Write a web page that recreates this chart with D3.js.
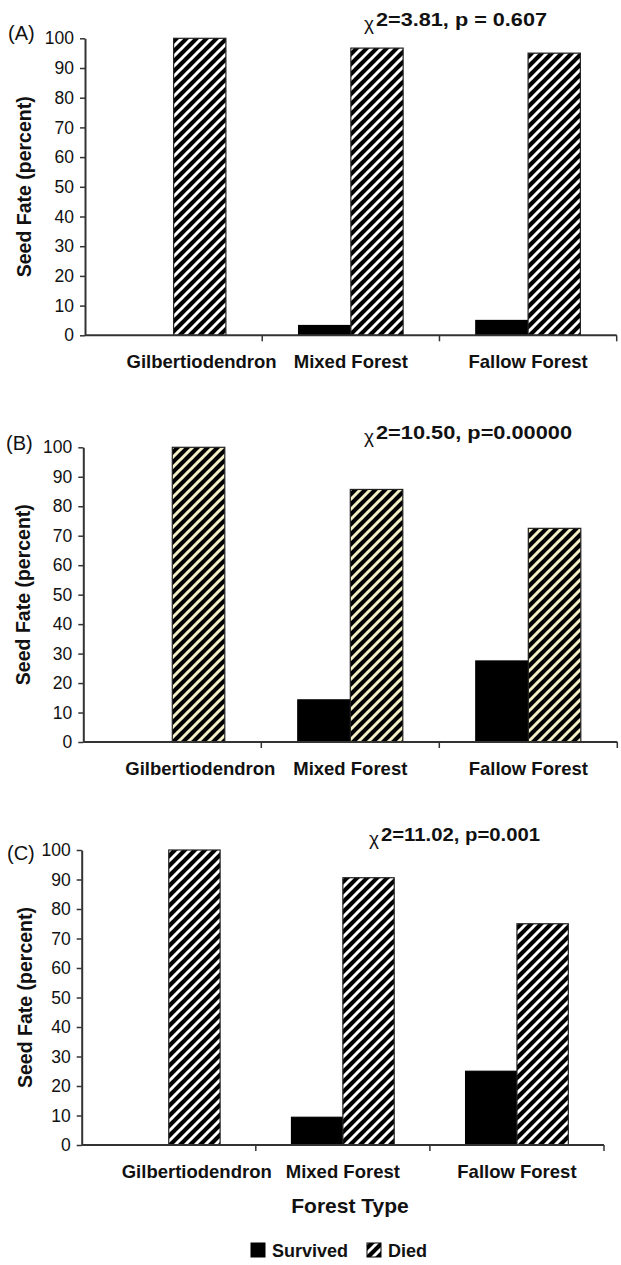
<!DOCTYPE html>
<html><head><meta charset="utf-8">
<script src="https://cdn.jsdelivr.net/npm/d3@7/dist/d3.min.js"></script>
<style>body{margin:0;background:#fff}svg{display:block}text{font-family:"Liberation Sans",Arial,sans-serif}</style>
</head><body>
<svg id="chart" width="621" height="1265"></svg>
<script>
const categories = ["Gilbertiodendron", "Mixed Forest", "Fallow Forest"];
const seriesNames = ["Survived", "Died"];
const survivedA = [0, 3.3, 5];
const diedA = [100, 96.7, 95];
const survivedB = [0, 14.3, 27.5];
const diedB = [100, 85.7, 72.5];
const survivedC = [0, 9.4, 25];
const diedC = [100, 90.6, 75];
const panelLabels = ["(A)", "(B)", "(C)"];
const statLabels = ["2=3.81, p = 0.607", "2=10.50, p=0.00000", "2=11.02, p=0.001"];
const yTicks = [0, 10, 20, 30, 40, 50, 60, 70, 80, 90, 100];
const yLabel = "Seed Fate (percent)";
const xLabel = "Forest Type";

const svg = d3.select("#chart");
const defs = svg.append("defs");
function hatch(id, light) {
  const p = defs.append("pattern").attr("id", id).attr("patternUnits", "userSpaceOnUse")
    .attr("width", 10).attr("height", 10);
  p.append("rect").attr("width", 10).attr("height", 10).attr("fill", "#000");
  [[-5, 5, 5, -5], [0, 10, 10, 0], [5, 15, 15, 5]].forEach(([a, b, c, d]) =>
    p.append("line").attr("x1", a).attr("y1", b).attr("x2", c).attr("y2", d)
      .attr("stroke", light).attr("stroke-width", 3));
}
hatch("hatchW", "#ffffff");
hatch("hatchY", "#f4f0c6");

const panels = [
  {surv: survivedA, died: diedA, x0: 85, x1: 616.7, y0: 335.3, y1: 38.3, fill: "url(#hatchW)", lab: [8, 40], stat: [364, 26], statW: 171, ylx: 24},
  {surv: survivedB, died: diedB, x0: 83.3, x1: 617.3, y0: 742, y1: 447.3, fill: "url(#hatchY)", lab: [6, 450], stat: [364, 439], statW: 196, ylx: 23},
  {surv: survivedC, died: diedC, x0: 81.7, x1: 604, y0: 1145, y1: 850, fill: "url(#hatchW)", lab: [7, 860], stat: [369, 841], statW: 159, ylx: 25}
];

panels.forEach((P, pi) => {
  const g = svg.append("g");
  const x = d3.scaleBand().domain(categories).range([P.x0, P.x1]).paddingInner(0.41).paddingOuter(0.205);
  const xs = d3.scaleBand().domain(seriesNames).range([0, x.bandwidth()]);
  const y = d3.scaleLinear().domain([0, 100]).range([P.y0, P.y1]);
  const rows = categories.map((c, i) => ({c, v: [P.surv[i], P.died[i]]}));

  rows.forEach(r => {
    r.v.forEach((v, si) => {
      if (v <= 0) return;
      g.append("rect")
        .attr("x", x(r.c) + xs(seriesNames[si]))
        .attr("y", y(v))
        .attr("width", xs.bandwidth())
        .attr("height", y(0) - y(v))
        .attr("fill", si === 0 ? "#000" : P.fill)
        .attr("stroke", si === 0 ? "#000" : "#222")
        .attr("stroke-width", 1.2);
    });
  });

  const ya = g.append("g").attr("transform", `translate(${P.x0},0)`)
    .call(d3.axisLeft(y).tickValues(yTicks).tickSize(5).tickSizeOuter(0).tickPadding(6));
  ya.select(".domain").attr("stroke", "#333").attr("stroke-width", 2);
  ya.selectAll(".tick line").attr("stroke", "#333").attr("stroke-width", 1.5);
  ya.selectAll(".tick text").attr("font-size", 17.5).attr("fill", "#111")
    .style("font-family", '"Liberation Sans",Arial,sans-serif');

  g.append("line").attr("x1", P.x0).attr("x2", P.x1).attr("y1", P.y0).attr("y2", P.y0)
    .attr("stroke", "#333").attr("stroke-width", 2);
  const step = x.step();
  categories.forEach((c, i) => {
    const bx = P.x0 + step * (i + 1);
    g.append("line").attr("x1", bx).attr("x2", bx).attr("y1", P.y0).attr("y2", P.y0 + 6)
      .attr("stroke", "#333").attr("stroke-width", 1.5);
  });
  categories.forEach((c, i) => {
    g.append("text").attr("x", x(c) + x.bandwidth() / 2 + (i === 0 ? 28 : 0)).attr("y", P.y0 + 33)
      .attr("text-anchor", "middle").attr("font-size", 18.5).attr("font-weight", "bold").attr("fill", "#111")
      .text(c);
  });

  g.append("text").attr("transform", `translate(${P.ylx},${(P.y0 + P.y1) / 2}) rotate(-90)`)
    .attr("text-anchor", "middle").attr("dominant-baseline", "central")
    .attr("font-size", 19.5).attr("font-weight", "bold").attr("fill", "#111").text(yLabel);

  g.append("text").attr("x", P.lab[0]).attr("y", P.lab[1]).attr("font-size", 20).attr("fill", "#111")
    .text(panelLabels[pi]);

  g.append("text").attr("x", P.stat[0]).attr("y", P.stat[1] + 4).attr("font-size", 19).attr("fill", "#111").text("χ");
  g.append("text").attr("x", P.stat[0] + 12).attr("y", P.stat[1]).attr("font-size", 19).attr("font-weight", "bold")
    .attr("fill", "#111").attr("textLength", P.statW).attr("lengthAdjust", "spacingAndGlyphs")
    .text(statLabels[pi]);
});

svg.append("text").attr("x", 350).attr("y", 1213).attr("text-anchor", "middle")
  .attr("font-size", 21).attr("font-weight", "bold").attr("fill", "#111").text(xLabel);

const leg = svg.append("g");
const legItems = [{n: seriesNames[0], fill: "#000", bx: 251, tx: 272}, {n: seriesNames[1], fill: "url(#hatchW)", bx: 367, tx: 388}];
legItems.forEach(it => {
  leg.append("rect").attr("x", it.bx).attr("y", 1243).attr("width", 14).attr("height", 14)
    .attr("fill", it.fill).attr("stroke", "#000").attr("stroke-width", 1);
  leg.append("text").attr("x", it.tx).attr("y", 1257).attr("font-size", 18).attr("font-weight", "bold")
    .attr("fill", "#111").text(it.n);
});
</script>
</body></html>
